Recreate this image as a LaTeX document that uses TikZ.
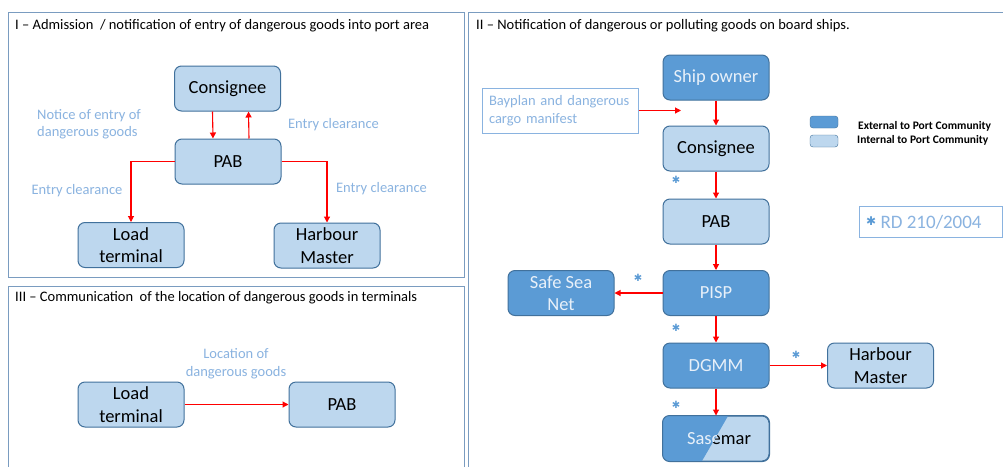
\documentclass[tikz,border=0pt]{standalone}
\usepackage{fontspec}
\setmainfont{Carlito}
\newfontfamily\symfont{DejaVu Sans}
\usetikzlibrary{arrows.meta}
\definecolor{lfill}{HTML}{BDD7EE}
\definecolor{dfill}{HTML}{5B9BD5}
\definecolor{bcol}{HTML}{41719C}
\definecolor{pcol}{HTML}{7A9CC0}
\definecolor{lbltxt}{HTML}{8AB3E0}
\definecolor{dtxt}{HTML}{E8F0F9}
\definecolor{starcol}{HTML}{5B9BD5}
\newcommand{\nodefont}{\fontsize{18.5}{22.5}\selectfont}
\newcommand{\lblfont}{\fontsize{14.5}{17.5}\selectfont}
\newcommand{\heavystar}{{\symfont ✱}}
\tikzset{
  panel/.style={draw=pcol, line width=1pt},
  boxbase/.style={draw=bcol, line width=1pt, rounded corners=7,
    minimum width=106, minimum height=45, align=center, font=\nodefont, inner sep=1pt},
  lbox/.style={boxbase, fill=lfill, text=black},
  dbox/.style={boxbase, fill=dfill, text=dtxt},
  arr/.style={draw=red, line width=1.1pt, -{Triangle[length=6pt,width=6pt]}},
  lbl/.style={text=lbltxt, font=\lblfont, align=left, inner sep=0pt},
  ttl/.style={font=\fontsize{14.5}{17}\selectfont, anchor=west, inner sep=0pt},
  star/.style={text=starcol, font=\fontsize{10}{10}\selectfont, inner sep=0pt},
  legtxt/.style={font=\bfseries\fontsize{11.5}{13}\selectfont, anchor=west, inner sep=0pt}
}
\begin{document}
\begin{tikzpicture}[x=1pt, y=-1pt]
\useasboundingbox (0,0) rectangle (1003,466);
\fill[white] (0,0) rectangle (1003,466);

% panel frames
\draw[panel] (8,12) rectangle (464,277);
\draw[panel] (8,286) rectangle (464,480);
\draw[panel] (468,12) rectangle (1015,480);

% ---- Panel I: admission / notification of entry
\node[ttl] (t1) at (15,26) {I -- Admission ~/ notification of entry of dangerous goods into port area};
\node[lbox] (cons1) at (227.5,88.5) {Consignee};
\node[lbox] (pab1) at (228,161.5) {PAB};
\node[lbox] (load1) at (131,245) {Load\\terminal};
\node[lbox] (harb1) at (327,245.5) {Harbour\\Master};
\draw[arr] ([xshift=-15pt]cons1.south) -- ([xshift=-15pt]pab1.north);
\draw[arr] ([xshift=21pt]pab1.north) -- ([xshift=21pt]cons1.south);
\draw[arr] (pab1.west) -| (load1.north);
\draw[arr] (pab1.east) -| (harb1.north);
\node[lbl, anchor=west] (l1) at (37,124) {Notice of entry of\\dangerous goods};
\node[lbl] (l2) at (333.5,125) {Entry clearance};
\node[lbl] (l3) at (77,191) {Entry clearance};
\node[lbl] (l4) at (381.5,189) {Entry clearance};

% ---- Panel III: location of dangerous goods in terminals
\node[ttl] (t3) at (15,298) {III -- Communication ~of the location of dangerous goods in terminals};
\node[lbox] (load3) at (131,404.5) {Load\\terminal};
\node[lbox] (pab3) at (342,404.5) {PAB};
\draw[arr] (load3.east) -- (pab3.west);
\node[lbl, align=center] (l5) at (236,363.5) {Location of\\dangerous goods};

% ---- Panel II: dangerous or polluting goods on board ships
\node[ttl] (t2) at (476,26) {II -- Notification of dangerous or polluting goods on board ships.};
\node[dbox] (ship) at (716,77.5) {Ship owner};
\node[lbox] (cons2) at (716,148.5) {Consignee};
\node[lbox] (pab2) at (716,221.5) {PAB};
\node[dbox] (pisp) at (716,293) {PISP};
\node[dbox] (ssn) at (561,293) {Safe Sea\\Net};
\node[dbox] (dgmm) at (716,365.5) {DGMM};
\node[lbox] (harb2) at (880.5,365.5) {Harbour\\Master};
\node[lbox] (sas) at (716,438.5) {};
% Sasemar: half external, half internal
\begin{scope}
  \clip[rounded corners=7] (sas.north west) rectangle (sas.south east);
  \fill[dfill] (sas.north west) -- (728,416) -- (702,461) -- (sas.south west) -- cycle;
\end{scope}
\begin{scope}
  \clip (650,400) -- (728,416) -- (702,461) -- (650,470) -- cycle;
  \node[font=\nodefont, text=dtxt] (sastxtA) at (719,438.5) {Sasemar};
\end{scope}
\begin{scope}
  \clip (728,416) -- (780,400) -- (780,470) -- (702,461) -- cycle;
  \node[font=\nodefont, text=black] (sastxtB) at (719,438.5) {Sasemar};
\end{scope}
\draw[draw=bcol, line width=1pt, rounded corners=7] (sas.north west) rectangle (sas.south east);

\node[draw=lbltxt, line width=1pt, fill=white, minimum width=156, minimum height=45,
      text width=142, align=left, lbl, inner sep=0pt] (bay) at (560,110.5)
      {Bayplan and dangerous\\cargo manifest};
\coordinate (bayend) at (681,110.5);
\draw[arr] (bay.east) -- (bayend);

\draw[arr] (ship) -- (cons2);
\draw[arr] (cons2) -- (pab2);
\draw[arr] (pab2) -- (pisp);
\draw[arr] (pisp) -- (ssn);
\draw[arr] (pisp) -- (dgmm);
\draw[arr] (dgmm) -- (harb2);
\draw[arr] (dgmm) -- (sas);

\node[star] (s1) at (676,180) {\heavystar};
\node[star] (s2) at (638,278) {\heavystar};
\node[star] (s3) at (676,328) {\heavystar};
\node[star] (s4) at (796,355) {\heavystar};
\node[star] (s5) at (676,405) {\heavystar};

% legend
\node[draw=bcol, fill=dfill, rounded corners=3, minimum width=28, minimum height=12, inner sep=0pt] (legD) at (824,122) {};
\node[draw=bcol, fill=lfill, rounded corners=3, minimum width=28, minimum height=12, inner sep=0pt] (legL) at (824,141) {};
\node[legtxt] (legDt) at (858,126) {External to Port Community};
\node[legtxt] (legLt) at (857,140.5) {Internal to Port Community};

\node[draw=lbltxt, line width=1pt, fill=white, minimum width=143, minimum height=31, inner sep=0pt]
      (rd) at (930.5,221.5) {};
\node[anchor=west, inner sep=0pt, font=\fontsize{19}{22}\selectfont, text=lbltxt] (rdtxt) at (866,222)
      {\textcolor{starcol}{\fontsize{12}{12}\selectfont\raisebox{3pt}{\heavystar}} RD 210/2004};
\end{tikzpicture}
\end{document}
